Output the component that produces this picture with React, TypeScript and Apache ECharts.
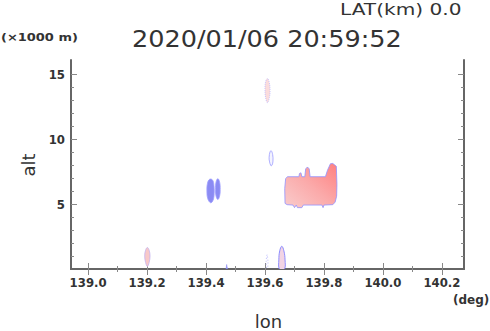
import React, { useEffect, useRef } from 'react';
import * as echarts from 'echarts';

// Axis ranges and ticks
const lonMin = 138.942;
const lonMax = 140.275;
const altMin = 0;
const altMax = 16.08;
const lonMajorTicks = [139.0, 139.2, 139.4, 139.6, 139.8, 140.0, 140.2];
const lonMinorTicks = [139.1, 139.3, 139.5, 139.7, 139.9, 140.1];
const altMajorTicks = [5, 10, 15];
const altMinorTicks = [1, 2, 3, 4, 6, 7, 8, 9, 11, 12, 13, 14];

// Echo regions (lon, alt[km]) outlines
const echoMain = [
  [139.668, 5.05], [139.667, 6.2], [139.670, 6.95], [139.676, 7.1], [139.715, 7.1],
  [139.717, 7.35], [139.722, 7.4], [139.725, 7.1], [139.735, 7.1], [139.738, 7.7],
  [139.744, 7.85], [139.750, 7.7], [139.753, 7.1], [139.805, 7.1], [139.812, 7.6],
  [139.822, 8.1], [139.830, 8.12], [139.842, 7.9], [139.844, 6.5], [139.843, 5.6],
  [139.838, 5.15], [139.830, 4.95], [139.800, 4.92], [139.797, 4.72], [139.793, 4.92],
  [139.730, 4.92], [139.725, 4.72], [139.710, 4.72], [139.706, 4.92], [139.700, 4.72],
  [139.695, 4.92], [139.675, 4.95],
];
const echoBlueLeft = [
  [139.415, 5.1], [139.406, 5.4], [139.403, 6.0], [139.405, 6.6], [139.412, 6.9],
  [139.422, 6.85], [139.427, 6.4], [139.427, 5.6], [139.422, 5.2],
];
const echoBlueRight = [
  [139.440, 5.35], [139.434, 5.6], [139.432, 6.1], [139.434, 6.7], [139.440, 6.95],
  [139.446, 6.7], [139.448, 6.1], [139.446, 5.6],
];
const echoPinkHigh = [
  [139.608, 12.8], [139.602, 13.2], [139.600, 13.8], [139.602, 14.4], [139.608, 14.65],
  [139.614, 14.4], [139.617, 13.8], [139.615, 13.2],
];
const echoBlueSmall = [
  [139.620, 7.95], [139.615, 8.3], [139.614, 8.6], [139.617, 9.0], [139.621, 9.1],
  [139.626, 8.8], [139.627, 8.3], [139.624, 8.0],
];
const echoPinkLow = [
  [139.201, 0.2], [139.195, 0.5], [139.192, 1.0], [139.195, 1.45], [139.201, 1.65],
  [139.207, 1.45], [139.210, 1.0], [139.207, 0.5],
];
const echoBottom = [
  [139.649, 0.0], [139.647, 0.7], [139.650, 1.4], [139.657, 1.75], [139.664, 1.4],
  [139.668, 0.7], [139.666, 0.0],
];
const echoDots = [
  [139.605, 0.1], [139.604, 0.6], [139.607, 1.1], [139.610, 0.6], [139.609, 0.1],
];
const echoTiny = [
  [139.468, 0.0], [139.470, 0.35], [139.473, 0.0],
];

const echoes = [
  echoMain, echoBlueLeft, echoBlueRight, echoPinkHigh, echoBlueSmall,
  echoPinkLow, echoBottom, echoDots, echoTiny,
];

const timeText = '2020/01/06 20:59:52';
const latText = 'LAT(km) 0.0';

export default function App() {
  const ref = useRef<HTMLDivElement>(null);
  useEffect(() => {
    if (!ref.current) return;
    const chart = echarts.init(ref.current, null, { renderer: 'svg' });

    const mainGradient = new echarts.graphic.LinearGradient(0, 1, 1, 0, [
      { offset: 0, color: '#f9cccc' },
      { offset: 0.5, color: '#fbaaaa' },
      { offset: 1, color: '#ff8080' },
    ]);
    const styles: any[] = [
      { fill: mainGradient, stroke: '#9090ff', lineWidth: 0.8 },
      { fill: '#8b8bf3', stroke: '#a0a0ff', lineWidth: 0.8 },
      { fill: '#8b8bf3', stroke: '#a0a0ff', lineWidth: 0.8 },
      { fill: '#fbdcdc', stroke: '#b8b8ff', lineWidth: 0.8, lineDash: [1, 1] },
      { fill: '#f4f4ff', stroke: '#9a9aff', lineWidth: 0.8 },
      { fill: '#f8c8c8', stroke: '#c4b4f0', lineWidth: 0.8 },
      { fill: '#f2d4e4', stroke: '#8c8cff', lineWidth: 1 },
      { fill: 'none', stroke: '#a8a8ff', lineWidth: 0.8, lineDash: [1, 2] },
      { fill: '#8b8bf3', stroke: '#8b8bf3', lineWidth: 0.5 },
    ];
    const smooths = [0, 0.4, 0.4, 0.4, 0.4, 0.4, 0.4, 0.3, 0];

    const tickLabelStyle = {
      color: '#333',
      fontFamily: '"DejaVu Sans Condensed", "DejaVu Sans", sans-serif',
      fontWeight: 'bold' as const,
      fontSize: 13,
    };
    const frame = { show: true, lineStyle: { color: '#666', width: 2 } };

    const xAxis = (position: string, ticks: number[], len: number, line: boolean, labels: boolean) => ({
      type: 'value',
      position,
      min: lonMin,
      max: lonMax,
      splitLine: { show: false },
      axisLine: line ? frame : { show: false },
      axisTick: {
        show: true,
        inside: true,
        length: len,
        customValues: ticks,
        lineStyle: { color: '#888', width: 1 },
      },
      axisLabel: labels
        ? { show: true, customValues: ticks, margin: 7, formatter: (v: number) => v.toFixed(1), ...tickLabelStyle }
        : { show: false },
    });
    const yAxis = (position: string, ticks: number[], len: number, line: boolean, labels: boolean) => ({
      type: 'value',
      position,
      min: altMin,
      max: altMax,
      splitLine: { show: false },
      axisLine: line ? frame : { show: false },
      axisTick: {
        show: true,
        inside: true,
        length: len,
        customValues: ticks,
        lineStyle: { color: '#888', width: 1 },
      },
      axisLabel: labels
        ? { show: true, customValues: ticks, margin: 6, formatter: (v: number) => String(v), ...tickLabelStyle }
        : { show: false },
    });

    chart.setOption({
      animation: false,
      backgroundColor: '#fff',
      grid: { left: 71, top: 60, right: 26, bottom: 62, containLabel: false },
      xAxis: [
        xAxis('bottom', lonMajorTicks, 6, true, true),
        xAxis('top', lonMajorTicks, 6, true, false),
        xAxis('bottom', lonMinorTicks, 3, false, false),
        xAxis('top', lonMinorTicks, 3, false, false),
      ],
      yAxis: [
        yAxis('left', altMajorTicks, 6, true, true),
        yAxis('right', altMajorTicks, 6, true, false),
        yAxis('left', altMinorTicks, 3, false, false),
        yAxis('right', altMinorTicks, 3, false, false),
      ],
      series: [
        {
          type: 'custom',
          xAxisIndex: 0,
          yAxisIndex: 0,
          clip: true,
          encode: { x: 0, y: 1 },
          data: echoes.map((e, i) => [e[0][0], e[0][1], i]),
          renderItem: (params: any, api: any) => {
            const pts = echoes[params.dataIndex].map((p) => api.coord(p));
            return {
              type: 'polygon',
              shape: { points: pts, smooth: smooths[params.dataIndex] },
              style: styles[params.dataIndex],
            };
          },
        },
      ],
      graphic: [
        {
          type: 'text', x: 340, y: 9, scaleX: 1.22,
          style: { text: latText, font: '16.5px "DejaVu Sans"', fill: '#333', align: 'left', verticalAlign: 'middle' },
        },
        {
          type: 'text', x: 132, y: 38.5, scaleX: 1.11,
          style: { text: timeText, font: '23px "DejaVu Sans"', fill: '#333', align: 'left', verticalAlign: 'middle' },
        },
        {
          type: 'text', x: 1, y: 37, scaleX: 1.18,
          style: { text: '(×1000 m)', font: 'bold 11px "DejaVu Sans"', fill: '#333', align: 'left', verticalAlign: 'middle' },
        },
        {
          type: 'text', x: 453, y: 300,
          style: { text: '(deg)', font: 'bold 12px "DejaVu Sans"', fill: '#333', align: 'left', verticalAlign: 'middle' },
        },
        {
          type: 'text', x: 268.5, y: 321,
          style: { text: 'lon', font: '18px "DejaVu Sans"', fill: '#333', align: 'center', verticalAlign: 'middle' },
        },
        {
          type: 'text', x: 28, y: 165, rotation: Math.PI / 2,
          style: { text: 'alt', font: '18px "DejaVu Sans"', fill: '#333', align: 'center', verticalAlign: 'middle' },
        },
      ],
    });
    return () => chart.dispose();
  }, []);
  return (
    <div
      ref={ref}
      style={{ position: 'absolute', left: 0, top: 0, width: 490, height: 331, background: '#fff' }}
    />
  );
}
